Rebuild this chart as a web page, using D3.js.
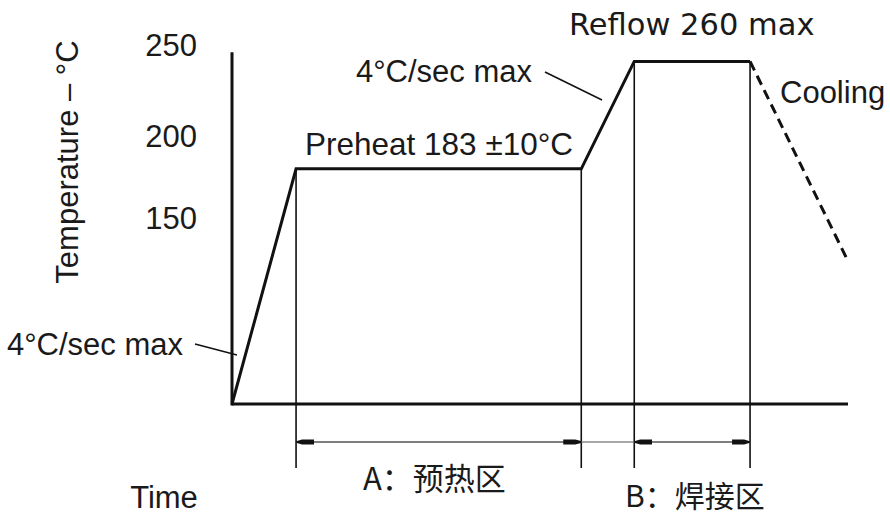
<!DOCTYPE html>
<html><head><meta charset="utf-8">
<script src="https://cdn.jsdelivr.net/npm/d3@7"></script>
<style>
html,body{margin:0;padding:0;background:#fff;}
svg{display:block;}
</style></head>
<body>
<script>
// ---- data ----
const tickLabels = [150, 200, 250];
// reflow profile: time (relative units) and temperature (°C)
const profileTime = [0, 10.4, 56.7, 65.3, 84.1];
const profileTemp = [25, 180, 180, 241, 241];
const coolingTime = [84.1, 100];
const coolingTemp = [241, 121];
const guideTimes = [10.4, 56.7, 65.3, 84.1];
const zones = [
  {label: "A：预热区", start: 10.4, end: 56.7},
  {label: "B：焊接区", start: 65.3, end: 84.1}
];
const axisTempTop = 246;
const axisTimeEnd = 100;

// ---- drawing ----
const W = 890, H = 517;
const svg = d3.select("body").append("svg").attr("width", W).attr("height", H);

const x = d3.scaleLinear().domain([0, 100]).range([232, 848]);
const y = d3.scaleLinear().domain([25, 150, 200, 250]).range([404, 218, 136, 45]);

const ink = "#111";
const txt = "#1a1a1a";
const sans = "'Liberation Sans', Arial, sans-serif";
const cjk = "'Noto Sans CJK SC', sans-serif";

const defs = svg.append("defs");
defs.append("marker").attr("id", "arr").attr("viewBox", "0 0 18 8")
  .attr("refX", 18).attr("refY", 4).attr("markerWidth", 18).attr("markerHeight", 8)
  .attr("markerUnits", "userSpaceOnUse").attr("orient", "auto-start-reverse")
  .append("path").attr("d", "M0,1.5 L12,1.5 L18,3.2 L18,4.8 L12,6.5 L0,6.5 Z").attr("fill", ink);

const base = y(25);
const guideDrop = 64, dimDrop = 38;

// guide lines
svg.selectAll("line.guide").data(guideTimes).join("line").attr("class", "guide")
  .attr("x1", d => x(d)).attr("x2", d => x(d))
  .attr("y1", d => y(profileTemp[profileTime.indexOf(d)]))
  .attr("y2", base + guideDrop)
  .attr("stroke", ink).attr("stroke-width", 1.6);

// dimension line
svg.append("line").attr("x1", x(zones[0].start)).attr("x2", x(zones[1].end))
  .attr("y1", base + dimDrop).attr("y2", base + dimDrop)
  .attr("stroke", "#555").attr("stroke-width", 1.2);
zones.forEach(z => {
  svg.append("line").attr("x1", x(z.start)).attr("x2", x(z.end))
    .attr("y1", base + dimDrop).attr("y2", base + dimDrop)
    .attr("stroke", "#555").attr("stroke-width", 1.2)
    .attr("marker-start", "url(#arr)").attr("marker-end", "url(#arr)");
});

// axes
svg.append("line").attr("x1", x(0)).attr("x2", x(0)).attr("y1", y(axisTempTop)).attr("y2", base + 1.5)
  .attr("stroke", ink).attr("stroke-width", 3);
svg.append("line").attr("x1", x(0)).attr("x2", x(axisTimeEnd)).attr("y1", base).attr("y2", base)
  .attr("stroke", ink).attr("stroke-width", 3);

// profile
const line = d3.line().x(d => x(d[0])).y(d => y(d[1]));
svg.append("path").datum(d3.zip(profileTime, profileTemp)).attr("d", line)
  .attr("fill", "none").attr("stroke", ink).attr("stroke-width", 3).attr("stroke-linejoin", "miter");
svg.append("path").datum(d3.zip(coolingTime, coolingTemp)).attr("d", line)
  .attr("fill", "none").attr("stroke", ink).attr("stroke-width", 3).attr("stroke-dasharray", "10,6");

// tick labels
svg.selectAll("text.tick").data(tickLabels).join("text").attr("class", "tick")
  .attr("x", 197).attr("y", d => y(d)).attr("dy", "0.36em")
  .attr("text-anchor", "end").attr("font-family", sans).attr("font-size", 31)
  .attr("fill", txt).text(d => d);

// axis titles
svg.append("text").attr("transform", `translate(78,162) rotate(-90)`)
  .attr("text-anchor", "middle").attr("font-family", sans).attr("font-size", 31)
  .attr("fill", txt).text("Temperature – °C");
svg.append("text").attr("x", 164).attr("y", 508).attr("text-anchor", "middle")
  .attr("font-family", sans).attr("font-size", 31).attr("fill", txt).text("Time");

// annotations
svg.append("text").attr("x", 183).attr("y", 355).attr("text-anchor", "end")
  .attr("font-family", sans).attr("font-size", 31).attr("fill", txt).text("4°C/sec max");
svg.append("line").attr("x1", 195).attr("y1", 344).attr("x2", x(0.8)).attr("y2", 355)
  .attr("stroke", ink).attr("stroke-width", 1.5);

svg.append("text").attr("x", 532).attr("y", 82).attr("text-anchor", "end")
  .attr("font-family", sans).attr("font-size", 31).attr("fill", txt).text("4°C/sec max");
svg.append("line").attr("x1", 545).attr("y1", 72).attr("x2", 602).attr("y2", 100)
  .attr("stroke", ink).attr("stroke-width", 1.5);

svg.append("text").attr("x", 305).attr("y", 155)
  .attr("font-family", sans).attr("font-size", 31.5).attr("fill", txt).text("Preheat 183 ±10°C");

svg.append("text").attr("x", 569).attr("y", 35)
  .attr("font-family", "'DejaVu Sans', sans-serif").attr("font-size", 30.5).attr("fill", txt).text("Reflow 260 max");

svg.append("text").attr("x", 780).attr("y", 103)
  .attr("font-family", sans).attr("font-size", 31).attr("fill", txt).text("Cooling");

// zone labels
svg.append("text").attr("x", 363).attr("y", 490)
  .attr("font-family", cjk).attr("font-size", 31).attr("fill", txt).text(zones[0].label);
svg.append("text").attr("x", 625).attr("y", 507)
  .attr("font-family", cjk).attr("font-size", 30).attr("fill", txt).text(zones[1].label);
</script>
</body></html>
